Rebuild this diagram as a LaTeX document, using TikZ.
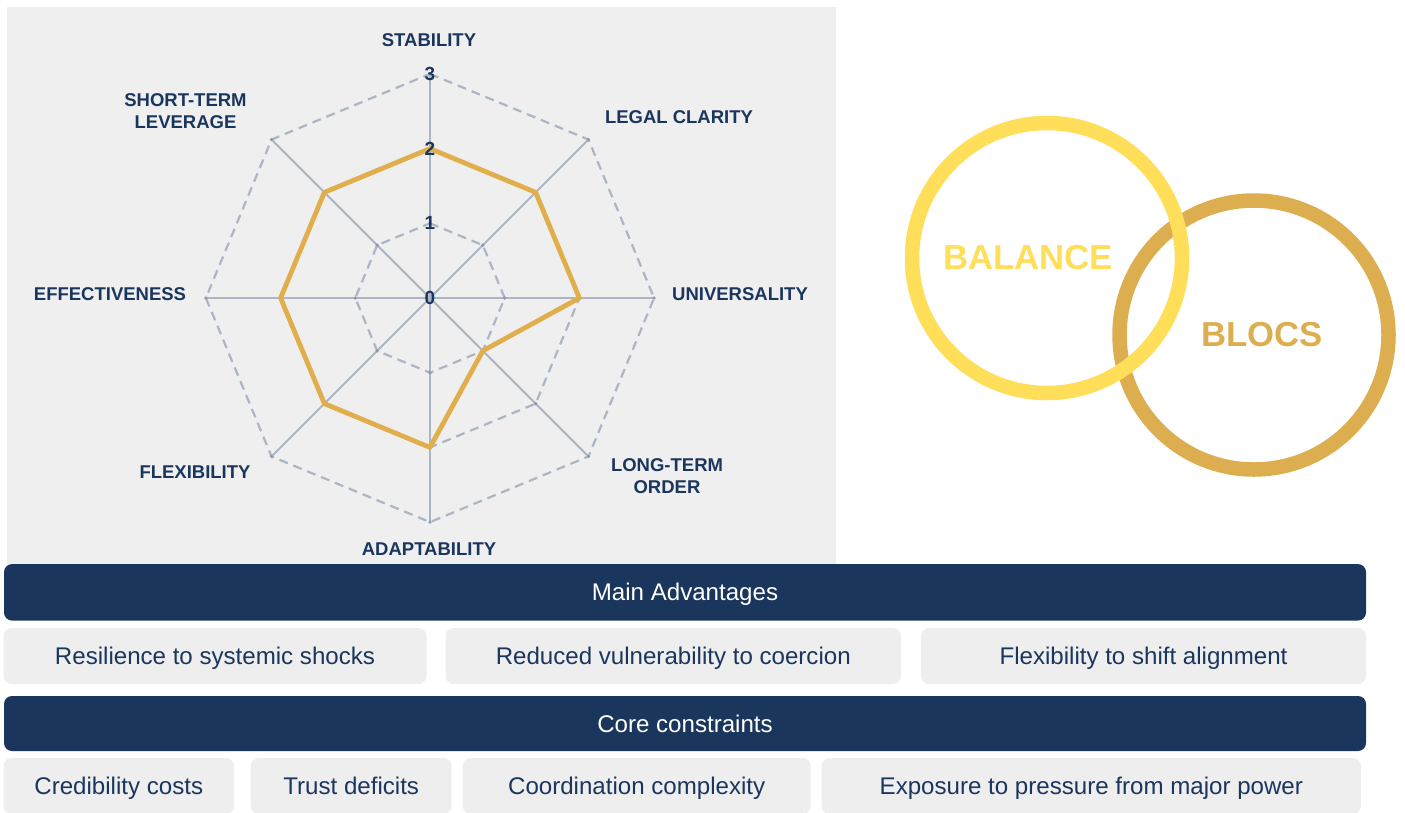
\documentclass[tikz,border=0pt]{standalone}
\usepackage{fontspec}
\setmainfont{Liberation Sans}
\definecolor{navy}{HTML}{1B365D}
\definecolor{panelgray}{HTML}{EFEFEF}
\definecolor{cellgray}{HTML}{EEEEEE}
\definecolor{gridc}{HTML}{ADB5C3}
\definecolor{dotcol}{HTML}{8F99AA}
\definecolor{goldline}{HTML}{E1AE4C}
\definecolor{balancey}{HTML}{FFDE59}
\definecolor{blocsg}{HTML}{DDAE50}
\tikzset{
  panel/.style={fill=panelgray},
  griddash/.style={draw=gridc, line width=2.2pt, dash pattern=on 9pt off 6pt},
  spoke/.style={draw=gridc, line width=2.1pt},
  gdot/.style={fill=dotcol},
  datal/.style={draw=goldline, line width=4.8pt, line join=round},
  tick/.style={font=\bfseries\fontsize{19}{22}\selectfont, text=navy, inner sep=0pt},
  axlab/.style={font=\bfseries\fontsize{18.5}{22}\selectfont, text=navy, inner sep=0pt, align=center},
  bar/.style={fill=navy, rounded corners=8pt, text=white, font=\fontsize{24.1}{28}\selectfont, inner sep=0pt, text height=17pt, text depth=0pt, minimum width=1362pt},
  cell/.style={fill=cellgray, rounded corners=8pt, text=navy, font=\fontsize{24.1}{28}\selectfont, inner sep=0pt, text height=17pt, text depth=0pt, minimum height=56pt},
  ring/.style={line width=14.5pt},
  venn/.style={font=\bfseries\fontsize{34.7}{40}\selectfont, inner sep=0pt}
}
\begin{document}
\begin{tikzpicture}[x=1pt,y=-1pt]
\useasboundingbox (0,0) rectangle (1405,812);
\clip (0,0) rectangle (1405,812);
% radar panel
\fill[panel] (7,7) rectangle (836,564);
\begin{scope}[shift={(430,298)}]
  \def\u{74.7}
  \foreach \r in {1,2,3}{
    \draw[griddash] (-90:{\r*\u}) \foreach \i in {1,...,7}{ -- ({-90+45*\i}:{\r*\u}) } -- cycle;
  }
  \foreach \i in {0,...,7}{
    \draw[spoke] (0,0) -- ({-90+45*\i}:{3*\u});
  }
  \foreach \r in {1,2,3}{
    \foreach \i in {0,...,7}{
      \fill[gdot] ({-90+45*\i}:{\r*\u}) circle (1.8);
    }
  }
  \draw[datal] (-90:{2*\u}) -- (-45:{2*\u}) -- (0:{2*\u}) -- (45:{1*\u}) -- (90:{2*\u}) -- (135:{2*\u}) -- (180:{2*\u}) -- (225:{2*\u}) -- cycle;
  \node[tick] (t0) at (0,0) {0};
  \node[tick] (t1) at (-90:{\u}) {1};
  \node[tick] (t2) at (-90:{2*\u}) {2};
  \node[tick] (t3) at (-90:{3*\u}) {3};
\end{scope}
% axis labels
\node[axlab] (lstab) at (429,40) {STABILITY};
\node[axlab] (llegal) at (679,117) {LEGAL CLARITY};
\node[axlab] (luni) at (740,294) {UNIVERSALITY};
\node[axlab] (llong) at (667,476.5) {LONG-TERM\\ORDER};
\node[axlab] (ladapt) at (429,549) {ADAPTABILITY};
\node[axlab] (lflex) at (195,472) {FLEXIBILITY};
\node[axlab] (leff) at (110,294) {EFFECTIVENESS};
\node[axlab] (lshort) at (185.5,111.5) {SHORT-TERM\\LEVERAGE};
% venn rings
\draw[ring, draw=blocsg] (1254,335) circle (134.5);
\draw[ring, draw=balancey] (1047,258) circle (135);
\node[venn, text=balancey] (balance) at (1028,258) {BALANCE};
\node[venn, text=blocsg] (blocs) at (1262,335) {BLOCS};
% advantages
\node[bar, minimum height=56.5pt] (adv) at (685,592.3) {Main Advantages};
\node[cell, minimum width=423pt] (a1) at (215,656) {Resilience to systemic shocks};
\node[cell, minimum width=455.5pt] (a2) at (673.25,656) {Reduced vulnerability to coercion};
\node[cell, minimum width=445pt] (a3) at (1143.5,656) {Flexibility to shift alignment};
% constraints
\node[bar, minimum height=55pt] (con) at (685,723.5) {Core constraints};
\node[cell, minimum width=230.5pt] (c1) at (118.75,786) {Credibility costs};
\node[cell, minimum width=201pt] (c2) at (351.2,786) {Trust deficits};
\node[cell, minimum width=348pt] (c3) at (636.7,786) {Coordination complexity};
\node[cell, minimum width=539.3pt] (c4) at (1091.3,786) {Exposure to pressure from major power};
\end{tikzpicture}
\end{document}
